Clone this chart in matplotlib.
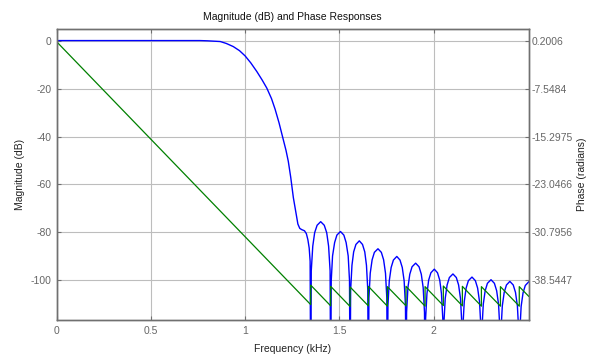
import matplotlib
matplotlib.use("Agg")
import matplotlib.pyplot as plt

# font: Arial-like sans, like the MATLAB screenshot
plt.rcParams["font.family"] = ["Liberation Sans", "DejaVu Sans"]

# magnitude response (kHz, dB)
# passband + transition band
trans_f = [0.0, 0.5, 0.76, 0.80, 0.868, 0.90, 0.937, 0.97, 1.0, 1.03, 1.062, 1.09,
           1.115, 1.14, 1.159, 1.18, 1.194, 1.203, 1.217, 1.229, 1.242, 1.256,
           1.268, 1.28, 1.29, 1.30, 1.315, 1.325, 1.333, 1.340, 1.345]
trans_db = [0.0, 0.0, 0.0, -0.1, -0.4, -1.2, -2.5, -4.2, -6.4, -9.3, -12.9, -16.4,
            -19.8, -24.2, -28.6, -34.3, -38.6, -41.5, -45.8, -50.3, -57.0, -65.5,
            -71.0, -76.5, -78.3, -78.8, -79.3, -80.5, -83.0, -86.5, -92.0]

# stopband lobes (zeros go far below the axis)
stop_f = [
    1.348, 1.351, 1.359, 1.369, 1.382, 1.401, 1.420, 1.433, 1.443, 1.451,
    1.454, 1.457, 1.464, 1.475, 1.487, 1.506, 1.524, 1.536, 1.547, 1.554,
    1.557, 1.560, 1.567, 1.576, 1.588, 1.606, 1.623, 1.635, 1.644, 1.651,
    1.654, 1.657, 1.664, 1.674, 1.686, 1.705, 1.723, 1.735, 1.745, 1.752,
    1.755, 1.758, 1.765, 1.775, 1.787, 1.805, 1.822, 1.834, 1.844, 1.851,
    1.854, 1.857, 1.864, 1.874, 1.886, 1.905, 1.923, 1.935, 1.945, 1.952,
    1.955, 1.958, 1.965, 1.974, 1.986, 2.004, 2.021, 2.033, 2.042, 2.049,
    2.052, 2.055, 2.062, 2.072, 2.084, 2.103, 2.121, 2.133, 2.143, 2.150,
    2.153, 2.156, 2.163, 2.173, 2.185, 2.204, 2.222, 2.234, 2.244, 2.251,
    2.254, 2.257, 2.264, 2.274, 2.286, 2.305, 2.323, 2.335, 2.345, 2.352,
    2.355, 2.358, 2.365, 2.375, 2.387, 2.405, 2.423, 2.435, 2.445, 2.452,
    2.455, 2.458, 2.465, 2.475, 2.487, 2.505,
]
stop_db = [
    -150, -96.0, -85.7, -80.1, -77.0, -75.5, -77.0, -80.1, -85.7, -96.0,
    -150, -100.1, -89.8, -84.2, -81.1, -79.6, -81.1, -84.2, -89.8, -100.1,
    -150, -104.0, -93.7, -88.1, -85.0, -83.5, -85.0, -88.1, -93.7, -104.0,
    -150, -107.3, -97.0, -91.4, -88.3, -86.8, -88.3, -91.4, -97.0, -107.3,
    -150, -110.5, -100.2, -94.6, -91.5, -90.0, -91.5, -94.6, -100.2, -110.5,
    -150, -113.3, -103.0, -97.4, -94.3, -92.8, -94.3, -97.4, -103.0, -113.3,
    -150, -115.8, -105.5, -99.9, -96.8, -95.3, -96.8, -99.9, -105.5, -115.8,
    -150, -117.8, -107.5, -101.9, -98.8, -97.3, -98.8, -101.9, -107.5, -117.8,
    -150, -119.1, -108.8, -103.2, -100.1, -98.6, -100.1, -103.2, -108.8, -119.1,
    -150, -120.2, -109.9, -104.3, -101.2, -99.7, -101.2, -104.3, -109.9, -120.2,
    -150, -120.9, -110.6, -105.0, -101.9, -100.4, -101.9, -105.0, -110.6, -120.9,
    -150, -121.1, -110.8, -105.2, -102.1, -100.6,
]

# phase response (kHz, radians): linear, then pi jumps at each stopband zero
phase_f = [0.0, 1.348, 1.348, 1.454, 1.454, 1.557, 1.557, 1.654, 1.654, 1.755, 1.755,
           1.854, 1.854, 1.955, 1.955, 2.052, 2.052, 2.153, 2.153, 2.254, 2.254,
           2.355, 2.355, 2.455, 2.455, 2.505]
phase_rad = [0.0, -42.45, -39.3, -42.65, -39.5, -42.75, -39.6, -42.65, -39.5, -42.7, -39.55,
             -42.65, -39.5, -42.7, -39.55, -42.6, -39.45, -42.65, -39.5, -42.7, -39.55,
             -42.7, -39.55, -42.7, -39.55, -41.1]

mag_ticks = [0, -20, -40, -60, -80, -100]
phase_ticks = [0.2006, -7.5484, -15.2975, -23.0466, -30.7956, -38.5447]
freq_ticks = [0, 0.5, 1, 1.5, 2]

mag_lim = (-116.5, 4.7)
# right axis is a linear map of the left one
scale = (phase_ticks[1] - phase_ticks[0]) / (mag_ticks[1] - mag_ticks[0])
phase_lim = (phase_ticks[0] + scale * mag_lim[0], phase_ticks[0] + scale * mag_lim[1])

tick_color = "#666666"
frame_color = "#707070"

fig = plt.figure(figsize=(5.89, 3.56), dpi=100)
ax = fig.add_axes([0.0963, 0.1011, 0.8013, 0.8166])

ax.plot(trans_f + stop_f, trans_db + stop_db, color="#0000ff", lw=1.0)
ax.set_xlim(0, 2.505)
ax.set_ylim(*mag_lim)
ax.set_xticks(freq_ticks)
ax.set_xticklabels(["0", "0.5", "1", "1.5", "2"])
ax.set_yticks(mag_ticks)
ax.set_yticklabels(["0", "-20", "-40", "-60", "-80", "-100"])
ax.grid(True, color="#bdbdbd", lw=0.8)
ax.tick_params(direction="in", length=3, colors=frame_color, labelcolor=tick_color,
               labelsize=7.5, top=True, pad=4)
ax.set_xlabel("Frequency (kHz)", fontsize=7.5, color="#222222", labelpad=6)
ax.set_ylabel("Magnitude (dB)", fontsize=7.5, color="#222222", labelpad=4)
ax.set_title("Magnitude (dB) and Phase Responses", fontsize=7.5, color="#111111", pad=7)

ax2 = ax.twinx()
ax2.plot(phase_f, phase_rad, color="#008000", lw=0.9)
ax2.set_ylim(*phase_lim)
ax2.set_yticks(phase_ticks)
ax2.set_yticklabels(["0.2006", "-7.5484", "-15.2975", "-23.0466", "-30.7956", "-38.5447"])
ax2.tick_params(direction="in", length=3, colors=frame_color, labelcolor=tick_color,
                labelsize=7.5, pad=2)
ax2.set_ylabel("Phase (radians)", fontsize=7.5, color="#222222", labelpad=3)

for a in (ax, ax2):
    for s in a.spines.values():
        s.set_color(frame_color)
        s.set_linewidth(1.0)

fig.savefig("out.png", dpi=100)
